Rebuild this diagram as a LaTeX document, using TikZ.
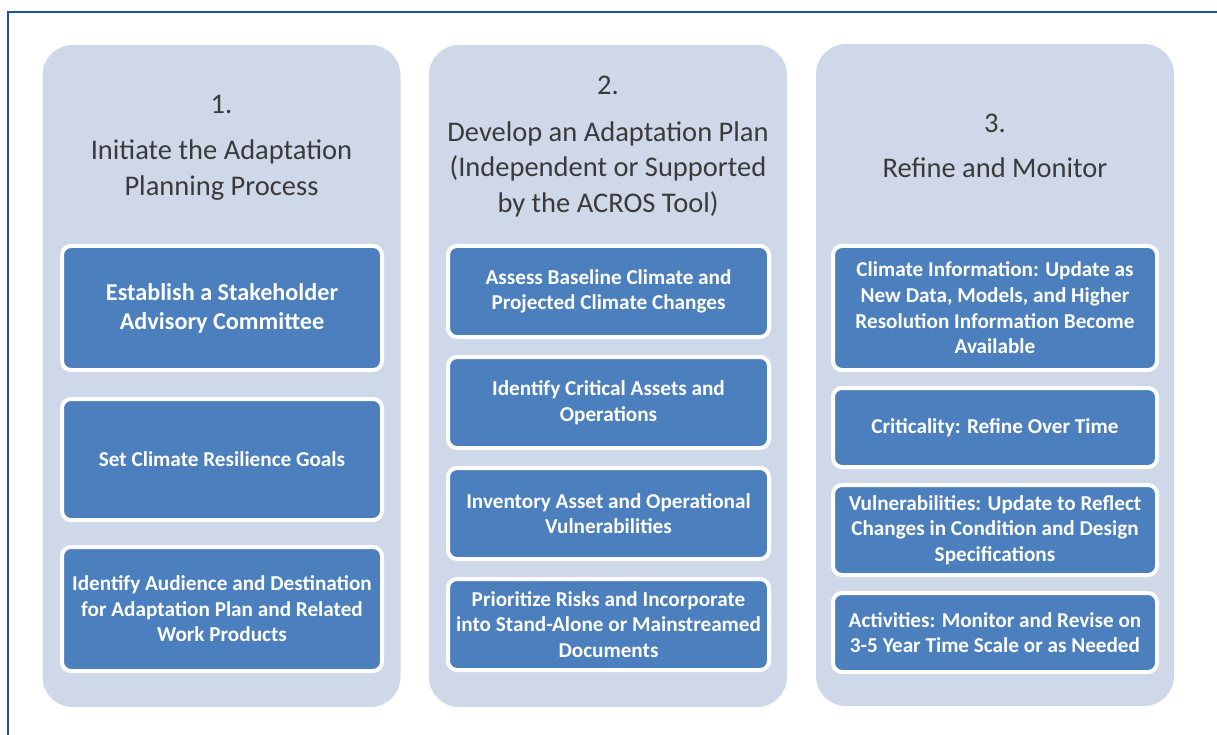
\documentclass[tikz,border=0pt]{standalone}
\usepackage{fontspec}
\setmainfont{Carlito}
\usetikzlibrary{positioning}

\definecolor{frameblue}{RGB}{24,88,150}
\definecolor{panelgray}{RGB}{207,216,232}
\definecolor{stepblue}{RGB}{76,127,189}
\definecolor{titlegray}{RGB}{58,58,58}

\tikzset{
  panel/.style={fill=panelgray, rounded corners=30pt, minimum width=358pt, minimum height=662pt, inner sep=0pt},
  numlabel/.style={font=\fontsize{28.5}{35}\selectfont, text=titlegray},
  paneltitle/.style={font=\fontsize{28.5}{35.5}\selectfont, text=titlegray, align=center},
  stepbox/.style={fill=stepblue, draw=white, line width=4pt, rounded corners=9pt,
    text=white, font=\bfseries\fontsize{21.2}{25.6}\selectfont, align=center, inner sep=0pt},
  bigstep/.style={font=\bfseries\fontsize{24.2}{29}\selectfont},
}

\begin{document}
\begin{tikzpicture}[x=1pt, y=-1pt]
  \useasboundingbox (0,0) rectangle (1217,735);
  % frame
  \draw[frameblue, line width=2pt] (8,735) -- (8,12) -- (1217,12);

  % column 1
  \node[panel] (p1) at (221.5,376) {};
  \node[numlabel] (n1) at (221.5,104) {1.};
  \node[paneltitle] (t1) at (221.5,170) {Initiate the Adaptation\\Planning Process};
  \node[stepbox, bigstep, minimum width=320pt, minimum height=124pt] (a1) at (222,308)
    {Establish a Stakeholder\\Advisory Committee};
  \node[stepbox, minimum width=320pt, minimum height=121pt] (a2) at (222,459.5)
    {Set Climate Resilience Goals};
  \node[stepbox, minimum width=320pt, minimum height=124pt] (a3) at (222,609)
    {Identify Audience and Destination\\for Adaptation Plan and Related\\Work Products};

  % column 2
  \node[panel] (p2) at (608,376) {};
  \node[numlabel] (n2) at (608,85) {2.};
  \node[paneltitle] (t2) at (608,169) {Develop an Adaptation Plan\\(Independent or Supported\\by the ACROS Tool)};
  \node[stepbox, minimum width=321pt, minimum height=91pt] (b1) at (608.5,291.5)
    {Assess Baseline Climate and\\Projected Climate Changes};
  \node[stepbox, minimum width=321pt, minimum height=91pt] (b2) at (608.5,402.5)
    {Identify Critical Assets and\\Operations};
  \node[stepbox, minimum width=321pt, minimum height=91pt] (b3) at (608.5,513.5)
    {Inventory Asset and Operational\\Vulnerabilities};
  \node[stepbox, minimum width=321pt, minimum height=91pt] (b4) at (608.5,624.5)
    {Prioritize Risks and Incorporate\\into Stand-Alone or Mainstreamed\\Documents};

  % column 3
  \node[panel] (p3) at (995,375) {};
  \node[numlabel] (n3) at (995,123) {3.};
  \node[paneltitle] (t3) at (995,168) {Refine and Monitor};
  \node[stepbox, minimum width=324pt, minimum height=124pt] (c1) at (995,308)
    {Climate Information: Update as\\New Data, Models, and Higher\\Resolution Information Become\\Available};
  \node[stepbox, minimum width=324pt, minimum height=79pt] (c2) at (995,427.5)
    {Criticality: Refine Over Time};
  \node[stepbox, minimum width=324pt, minimum height=90pt] (c3) at (995,530)
    {Vulnerabilities: Update to Reflect\\Changes in Condition and Design\\Specifications};
  \node[stepbox, minimum width=324pt, minimum height=79pt] (c4) at (995,632.5)
    {Activities: Monitor and Revise on\\3-5 Year Time Scale or as Needed};
\end{tikzpicture}
\end{document}
